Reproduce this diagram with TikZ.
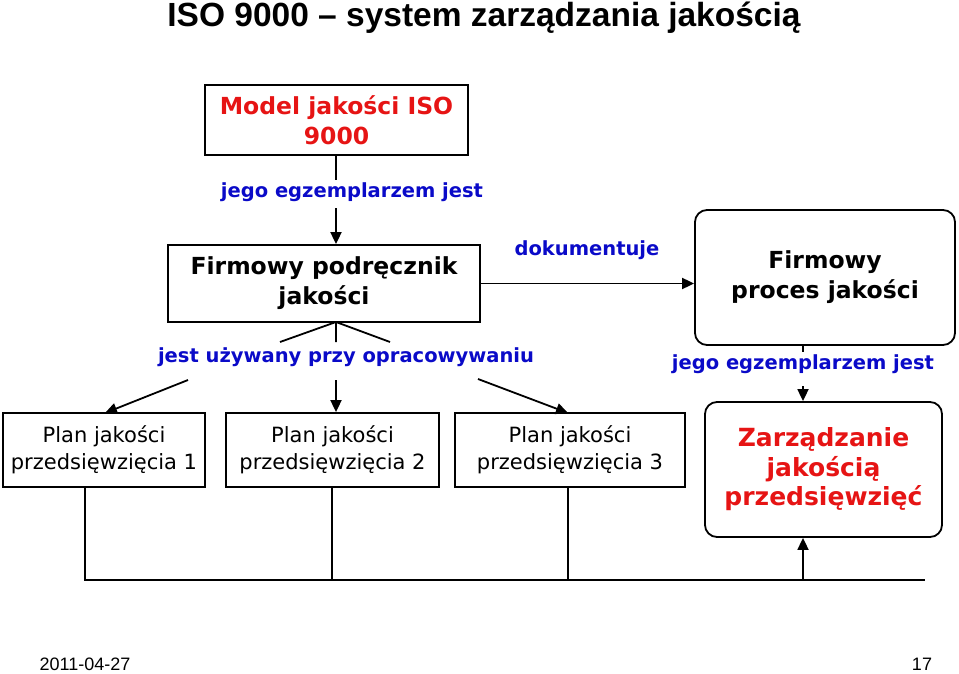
\documentclass[tikz,border=0pt]{standalone}
\usepackage{fontspec}
\setmainfont{DejaVu Sans}
\newfontfamily\arial{Liberation Sans}
\usetikzlibrary{arrows.meta}
\definecolor{lblue}{RGB}{10,10,200}
\definecolor{lred}{RGB}{230,20,20}
\begin{document}
\begin{tikzpicture}[x=1pt,y=-1pt,
  sq/.style={draw,line width=1.8pt,minimum height=0pt,inner sep=0pt,align=center},
  rnd/.style={draw,line width=1.8pt,rounded corners=12pt,inner sep=0pt,align=center},
  lbl/.style={text=lblue,font=\fontsize{19.5}{22}\selectfont\bfseries,inner sep=1pt},
  con/.style={line width=1.8pt},
  arr/.style={line width=1.8pt,-{Triangle[length=12pt,width=11pt]}}]
\useasboundingbox (0,0) rectangle (959,674);
\node[font=\arial\fontsize{33.5}{36}\selectfont\bfseries] (title) at (484,18) {ISO 9000 – system zarządzania jakością};
\node[sq,minimum width=263pt,minimum height=70pt,text=lred,font=\fontsize{23.5}{30}\selectfont\bfseries] (A) at (336.5,120) {Model jakości ISO\\9000};
\node[lbl] (l1) at (352,192) {jego egzemplarzem jest};
\node[sq,minimum width=312pt,minimum height=77pt,font=\fontsize{23.5}{30}\selectfont\bfseries] (B) at (324,283.5) {Firmowy podręcznik\\jakości};
\node[rnd,minimum width=260pt,minimum height=135pt,font=\fontsize{23.5}{30}\selectfont\bfseries] (C) at (825,277.5) {Firmowy\\proces jakości};
\node[lbl] (l2) at (587,250) {dokumentuje};
\node[lbl] (l3) at (346,357) {jest używany przy opracowywaniu};
\node[lbl] (l4) at (803,364) {jego egzemplarzem jest};
\node[sq,minimum width=202pt,minimum height=74pt,font=\fontsize{21}{27}\selectfont] (P1) at (104,450) {Plan jakości\\przedsięwzięcia 1};
\node[sq,minimum width=213pt,minimum height=74pt,font=\fontsize{21}{27}\selectfont] (P2) at (332.5,450) {Plan jakości\\przedsięwzięcia 2};
\node[sq,minimum width=230pt,minimum height=74pt,font=\fontsize{21}{27}\selectfont] (P3) at (570,450) {Plan jakości\\przedsięwzięcia 3};
\node[rnd,minimum width=237pt,minimum height=135pt,text=lred,font=\fontsize{25}{29.5}\selectfont\bfseries] (D) at (823.5,469.5) {Zarządzanie\\jakością\\przedsięwzięć};
\coordinate (a1) at (336,180); \coordinate (a2) at (336,208);
\draw[con] (A.south -| a1) -- (a1);
\draw[arr] (a2) -- (a2 |- B.north);
\draw[arr] (B.east) -- (B.east -| C.west);
\coordinate (b0) at (336,322);
\draw[con] (b0) -- (280,342) (b0) -- (336,342) (b0) -- (390,342);
\coordinate (s1) at (188,380); \coordinate (s2) at (336,380); \coordinate (s3) at (478,379);
\draw[arr] (s1) -- (105,413);
\draw[arr] (s2) -- (s2 |- P2.north);
\draw[arr] (s3) -- (568,413);
\coordinate (c1) at (803,352); \coordinate (c2) at (803,386);
\draw[con] (c1 |- C.south) -- (c1);
\draw[arr] (c2) -- (c2 |- D.north);
\coordinate (h1) at (85,580); \coordinate (h2) at (925,580); \coordinate (h3) at (803,580);
\draw[con] (h1 |- P1.south) -- (h1) -- (h2);
\draw[con] (332,487) -- (332,580);
\draw[con] (568,487) -- (568,580);
\draw[arr] (h3) -- (h3 |- D.south);
\node[font=\arial\fontsize{18}{20}\selectfont] (date) at (85,664) {2011-04-27};
\node[font=\arial\fontsize{18}{20}\selectfont] (pg) at (922,664) {17};
\end{tikzpicture}
\end{document}
